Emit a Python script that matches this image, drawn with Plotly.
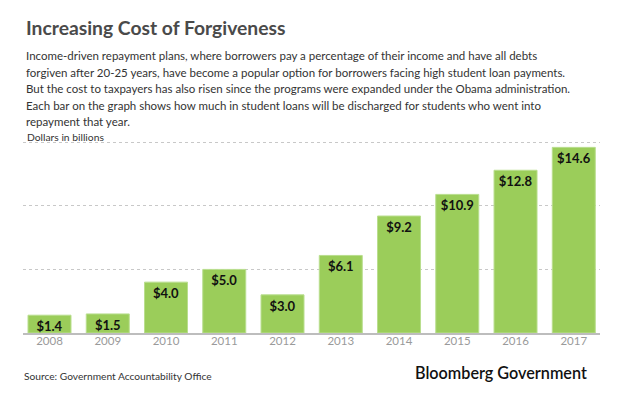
import plotly.graph_objects as go

years = ["2008", "2009", "2010", "2011", "2012", "2013", "2014", "2015", "2016", "2017"]
values = [1.4, 1.5, 4.0, 5.0, 3.0, 6.1, 9.2, 10.9, 12.8, 14.6]
grid_vals = [0, 5, 10, 15]

title_text = "Increasing Cost of Forgiveness"
body_lines = [
    "Income-driven repayment plans, where borrowers pay a percentage of their income and have all debts",
    "forgiven after 20-25 years, have become a popular option for borrowers facing high student loan payments.",
    "But the cost to taxpayers has also risen since the programs were expanded under the Obama administration.",
    "Each bar on the graph shows how much in student loans will be discharged for students who went into",
    "repayment that year.",
]
unit_text = "Dollars in billions"
source_text = "Source: Government Accountability Office"
brand_text = "Bloomberg Government"

W, H = 620, 399
L, R, T, B = 23, 20, 141, 65.5
PW, PH = W - L - R, H - T - B


def px(x):
    return (x - L) / PW


def py(y):
    return (H - B - y) / PH


FONT = "Lato"

fig = go.Figure()
fig.add_trace(go.Bar(
    x=list(range(len(years))),
    y=values,
    marker=dict(color="#9bcd5a", line=dict(color="#b9de8e", width=1)),
    texttemplate="$%{y:.1f}",
    textposition="inside",
    insidetextanchor="end",
    constraintext="none",
    textfont=dict(family=FONT, size=13, color="#111111", weight="bold"),
    hoverinfo="skip",
))

annotations = [
    dict(text=f"<b>{title_text}</b>", x=px(24), y=py(27), xanchor="left", yanchor="middle",
         font=dict(family=FONT, size=19.3, color="#4a4a4a")),
    dict(text=unit_text, x=px(25), y=py(137), xanchor="left", yanchor="middle",
         font=dict(family=FONT, size=10.3, color="#333333")),
    dict(text=source_text, x=px(22), y=py(377), xanchor="left", yanchor="middle",
         font=dict(family=FONT, size=10.2, color="#333333")),
    dict(text=brand_text, x=px(589), y=py(373), xanchor="right", yanchor="middle",
         font=dict(family=FONT, size=16.2, color="#111111", weight=600)),
]
line_y = [55, 72, 88.5, 105, 121]
for txt, yy in zip(body_lines, line_y):
    annotations.append(dict(text=txt, x=px(24), y=py(yy), xanchor="left", yanchor="middle",
                            font=dict(family=FONT, size=11.5, color="#333333")))
for a in annotations:
    a.update(xref="paper", yref="paper", showarrow=False)

fig.update_layout(
    width=W, height=H,
    margin=dict(l=L, r=R, t=T, b=B, pad=0),
    paper_bgcolor="white", plot_bgcolor="white",
    bargap=0.262,
    showlegend=False,
    annotations=annotations,
    xaxis=dict(
        range=[-0.455, 9.45],
        tickmode="array", tickvals=list(range(len(years))), ticktext=years,
        tickfont=dict(family=FONT, size=11.5, color="#9a9a9a"),
        ticklabelstandoff=-4,
        showgrid=False, zeroline=False,
        showline=True, linecolor="#bdbdbd", linewidth=2,
        ticks="", fixedrange=True,
    ),
    yaxis=dict(
        range=[0, 15.1],
        tickmode="array", tickvals=grid_vals,
        showticklabels=False,
        showgrid=True, gridcolor="#c8c8c8", gridwidth=1, griddash="dot",
        zeroline=False, showline=False, fixedrange=True,
    ),
)

fig.write_html("out.html", config={"displayModeBar": False},
               post_script="document.body.style.margin='0';")
